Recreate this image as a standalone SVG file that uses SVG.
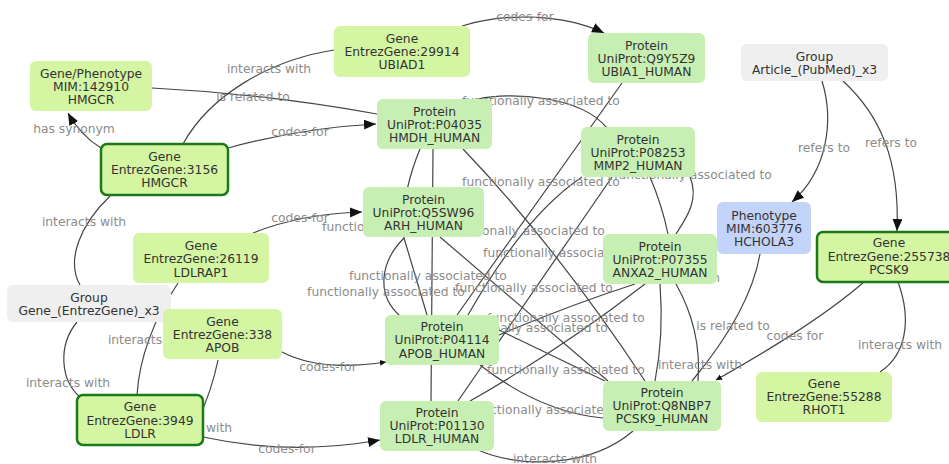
<svg xmlns="http://www.w3.org/2000/svg" width="949" height="464" viewBox="0 0 949 464">
<style>
text{font-family:"DejaVu Sans","Liberation Sans",sans-serif;font-size:12.3px;text-anchor:middle}
.n text{fill:#333}
.lbl{fill:#8c8c8c}
.e{fill:none;stroke:#444;stroke-width:1.2}
.gene{fill:#d4f5a2}
.prot{fill:#c8efb3}
.phen{fill:#c4d3f9}
.grp{fill:#efefef}
.thick{stroke:#1a7a1a;stroke-width:2.5}
</style>
<defs>
<marker id="arr" markerUnits="userSpaceOnUse" markerWidth="14" markerHeight="12" refX="12" refY="5" orient="auto">
<path d="M0,0 L12,5 L0,10 Z" fill="#111"/>
</marker>
<marker id="arrs" markerUnits="userSpaceOnUse" markerWidth="8" markerHeight="8" refX="6" refY="3" orient="auto">
<path d="M0,0 L6,3 L0,6 Z" fill="#111"/>
</marker>
</defs>
<rect width="949" height="464" fill="#fff"/>
<g id="connectors">
<path class="e" d="M101,148 Q80,135 68,113" marker-end="url(#arr)"/>
<path class="e" d="M152,88 C230,92 300,100 377,114"/>
<path class="e" d="M183,144 C210,95 270,60 334,50"/>
<path class="e" d="M228,148 Q300,128 376,124" marker-end="url(#arr)"/>
<path class="e" d="M462,26 C500,14 560,12 604,33" marker-end="url(#arr)"/>
<path class="e" d="M822,81 C834,120 828,170 792,202" marker-end="url(#arr)"/>
<path class="e" d="M843,81 C880,115 900,160 897,231" marker-end="url(#arr)"/>
<path class="e" d="M110,196 C80,225 66,260 80,285"/>
<path class="e" d="M253,233 Q300,214 362,212" marker-end="url(#arr)"/>
<path class="e" d="M178,283 C160,310 140,350 137,395"/>
<path class="e" d="M77,322 C58,345 60,380 80,397"/>
<path class="e" d="M218,360 Q212,390 198,420"/>
<path class="e" d="M282,352 Q320,372 386,362" marker-end="url(#arrs)"/>
<path class="e" d="M203,437 Q290,456 380,440" marker-end="url(#arr)"/>
<path class="e" d="M478,450 C520,468 590,468 633,431"/>
<path class="e" d="M864,282 C820,320 760,355 716,380" marker-end="url(#arrs)"/>
<path class="e" d="M760,254 C752,300 722,345 692,381"/>
<path class="e" d="M898,282 C912,320 906,355 880,372"/>
<path class="e" d="M478,99 C510,92 580,95 607,128"/>
<path class="e" d="M420,149 Q412,168 407,190 L404,238 C380,262 376,295 400,316"/>
<path class="e" d="M433,149 L431,401"/>
<path class="e" d="M404,238 L427,315"/>
<path class="e" d="M440,237 L608,381"/>
<path class="e" d="M463,149 Q555,245 645,381"/>
<path class="e" d="M622,83 L457,315"/>
<path class="e" d="M582,177 Q525,215 468,315"/>
<path class="e" d="M612,177 L458,401"/>
<path class="e" d="M650,177 Q662,205 668,234"/>
<path class="e" d="M690,177 C700,200 685,220 676,234"/>
<path class="e" d="M635,284 Q570,305 499,335"/>
<path class="e" d="M645,284 Q560,350 470,401"/>
<path class="e" d="M480,365 Q540,412 603,418"/>
<path class="e" d="M499,330 L605,381"/>
<path class="e" d="M660,284 Q664,335 655,381"/>
<path class="e" d="M676,284 Q702,330 698,381"/>
<text class="lbl" x="74" y="133">has synonym</text>
<text class="lbl" x="269" y="73">interacts with</text>
<text class="lbl" x="253" y="101">is related to</text>
<text class="lbl" x="300" y="136">codes-for</text>
<text class="lbl" x="525" y="21">codes-for</text>
<text class="lbl" x="84" y="226">interacts with</text>
<text class="lbl" x="300" y="222">codes-for</text>
<text class="lbl" x="150" y="344">interacts with</text>
<text class="lbl" x="68" y="387">interacts with</text>
<text class="lbl" x="190" y="432">interacts with</text>
<text class="lbl" x="328" y="371">codes-for</text>
<text class="lbl" x="287" y="453">codes-for</text>
<text class="lbl" x="555" y="463">interacts with</text>
<text class="lbl" x="795" y="340">codes for</text>
<text class="lbl" x="733" y="330">is related to</text>
<text class="lbl" x="700" y="369">interacts with</text>
<text class="lbl" x="900" y="349">interacts with</text>
<text class="lbl" x="824" y="152">refers to</text>
<text class="lbl" x="891" y="147">refers to</text>
<text class="lbl" x="678" y="282">interacts with</text>
<text class="lbl" x="541" y="105">functionally associated to</text>
<text class="lbl" x="541" y="186">functionally associated to</text>
<text class="lbl" x="693" y="179">functionally associated to</text>
<text class="lbl" x="401" y="231">functionally associated to</text>
<text class="lbl" x="526" y="235">functionally associated to</text>
<text class="lbl" x="562" y="257">functionally associated to</text>
<text class="lbl" x="428" y="280">functionally associated to</text>
<text class="lbl" x="386" y="296">functionally associated to</text>
<text class="lbl" x="534" y="292">functionally associated to</text>
<text class="lbl" x="566" y="322">functionally associated to</text>
<text class="lbl" x="529" y="332">functionally associated to</text>
<text class="lbl" x="566" y="374">functionally associated to</text>
<text class="lbl" x="549" y="414">functionally associated to</text>
</g>
<g id="gene-phenotype-142910" class="n"><rect class="gene" x="30" y="61" width="122" height="50" rx="6"/><text x="91" y="78">Gene/Phenotype</text><text x="91" y="91">MIM:142910</text><text x="91" y="104">HMGCR</text></g>
<g id="gene-3156" class="n"><rect class="gene thick" x="101" y="144" width="127" height="51" rx="6"/><text x="164.5" y="161">Gene</text><text x="164.5" y="174">EntrezGene:3156</text><text x="164.5" y="187">HMGCR</text></g>
<g id="gene-29914" class="n"><rect class="gene" x="334" y="26" width="136" height="51" rx="6"/><text x="402" y="43">Gene</text><text x="402" y="56">EntrezGene:29914</text><text x="402" y="69">UBIAD1</text></g>
<g id="protein-Q9Y5Z9" class="n"><rect class="prot" x="588" y="33" width="117" height="50" rx="6"/><text x="646.5" y="50">Protein</text><text x="646.5" y="63">UniProt:Q9Y5Z9</text><text x="646.5" y="76">UBIA1_HUMAN</text></g>
<g id="group-article" class="n"><rect class="grp" x="741" y="44" width="147" height="37" rx="6"/><text x="814.5" y="61">Group</text><text x="814.5" y="74">Article_(PubMed)_x3</text></g>
<g id="protein-P04035" class="n"><rect class="prot" x="377" y="99" width="115" height="50" rx="6"/><text x="434.5" y="116">Protein</text><text x="434.5" y="129">UniProt:P04035</text><text x="434.5" y="142">HMDH_HUMAN</text></g>
<g id="protein-P08253" class="n"><rect class="prot" x="581" y="127" width="114" height="50" rx="6"/><text x="638" y="144">Protein</text><text x="638" y="157">UniProt:P08253</text><text x="638" y="170">MMP2_HUMAN</text></g>
<g id="protein-Q5SW96" class="n"><rect class="prot" x="363" y="187" width="121" height="50" rx="6"/><text x="423.5" y="204">Protein</text><text x="423.5" y="217">UniProt:Q5SW96</text><text x="423.5" y="230">ARH_HUMAN</text></g>
<g id="phenotype-603776" class="n"><rect class="phen" x="717" y="202" width="94" height="52" rx="6"/><text x="764" y="220">Phenotype</text><text x="764" y="233">MIM:603776</text><text x="764" y="246">HCHOLA3</text></g>
<g id="gene-255738" class="n"><rect class="gene thick" x="817" y="232" width="145" height="50" rx="6"/><text x="889" y="247">Gene</text><text x="889" y="261">EntrezGene:255738</text><text x="889" y="274">PCSK9</text></g>
<g id="gene-26119" class="n"><rect class="gene" x="133" y="233" width="136" height="50" rx="6"/><text x="201" y="250">Gene</text><text x="201" y="263">EntrezGene:26119</text><text x="201" y="277">LDLRAP1</text></g>
<g id="protein-P07355" class="n"><rect class="prot" x="603" y="234" width="114" height="50" rx="6"/><text x="660" y="251">Protein</text><text x="660" y="264">UniProt:P07355</text><text x="660" y="277">ANXA2_HUMAN</text></g>
<g id="group-gene" class="n"><rect class="grp" x="7" y="285" width="164" height="37" rx="6"/><text x="89" y="302">Group</text><text x="89" y="315">Gene_(EntrezGene)_x3</text></g>
<g id="gene-338" class="n"><rect class="gene" x="163" y="309" width="119" height="50" rx="6"/><text x="222.5" y="326">Gene</text><text x="222.5" y="339">EntrezGene:338</text><text x="222.5" y="352">APOB</text></g>
<g id="protein-P04114" class="n"><rect class="prot" x="385" y="315" width="114" height="50" rx="6"/><text x="442" y="331">Protein</text><text x="442" y="344">UniProt:P04114</text><text x="442" y="358">APOB_HUMAN</text></g>
<g id="gene-55288" class="n"><rect class="gene" x="756" y="372" width="136" height="50" rx="6"/><text x="824" y="388">Gene</text><text x="824" y="401">EntrezGene:55288</text><text x="824" y="414">RHOT1</text></g>
<g id="gene-3949" class="n"><rect class="gene thick" x="77" y="395" width="126" height="50" rx="6"/><text x="140" y="411">Gene</text><text x="140" y="425">EntrezGene:3949</text><text x="140" y="438">LDLR</text></g>
<g id="protein-P01130" class="n"><rect class="prot" x="380" y="401" width="114" height="50" rx="6"/><text x="437" y="417">Protein</text><text x="437" y="430">UniProt:P01130</text><text x="437" y="443">LDLR_HUMAN</text></g>
<g id="protein-Q8NBP7" class="n"><rect class="prot" x="603" y="381" width="118" height="50" rx="6"/><text x="662" y="397">Protein</text><text x="662" y="410">UniProt:Q8NBP7</text><text x="662" y="423">PCSK9_HUMAN</text></g>
</svg>
